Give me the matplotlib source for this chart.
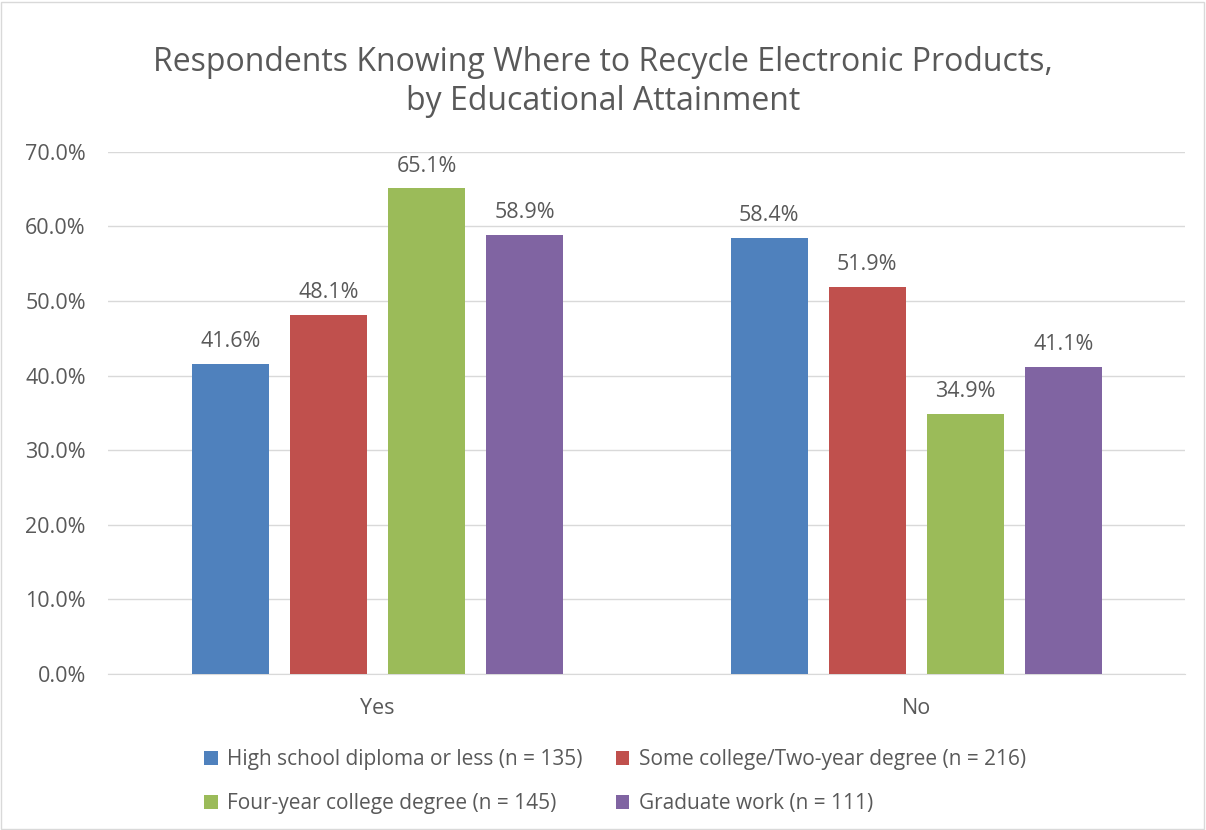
import numpy as np
import matplotlib.pyplot as plt
from matplotlib.patches import Rectangle

plt.rcParams['font.family'] = ['Open Sans', 'DejaVu Sans']

# survey responses by education group
answers = ['Yes', 'No']
groups = ['High school diploma or less (n = 135)',
          'Some college/Two-year degree (n = 216)',
          'Four-year college degree (n = 145)',
          'Graduate work (n = 111)']
hs_diploma = [41.6, 58.4]
some_college = [48.1, 51.9]
four_year = [65.1, 34.9]
graduate = [58.9, 41.1]
colors = ['#4F81BD', '#C0504D', '#9BBB59', '#8064A2']

series = [hs_diploma, some_college, four_year, graduate]
text_color = '#595959'

fig = plt.figure(figsize=(12.06, 8.30), dpi=100)
ax = fig.add_axes([0.0896, 0.188, 0.8934, 0.629])

x = np.arange(len(answers))
width = 0.143
step = 0.182
handles = []
for i, (vals, col, lab) in enumerate(zip(series, colors, groups)):
    pos = x + (i - 1.5) * step
    bars = ax.bar(pos, vals, width, color=col, label=lab, zorder=3)
    handles.append(bars)
    for b, v in zip(bars, vals):
        ax.text(b.get_x() + b.get_width() / 2, v + 1.6, f'{v:.1f}%',
                ha='center', va='bottom', fontsize=15.5, color=text_color)

ax.set_xlim(-0.5, 1.5)
ax.set_ylim(0, 70)
ax.set_yticks(np.arange(0, 71, 10))
ax.set_yticklabels([f'{t:.1f}%' for t in np.arange(0, 71, 10)])
ax.set_xticks(x)
ax.set_xticklabels(answers)
ax.grid(axis='y', color='#D9D9D9', linewidth=1, zorder=0)
ax.tick_params(axis='both', length=0, labelsize=15.5, colors=text_color)
ax.tick_params(axis='y', pad=16)
ax.tick_params(axis='x', pad=17)
for side in ['top', 'right', 'left']:
    ax.spines[side].set_visible(False)
ax.spines['bottom'].set_color('#D9D9D9')

fig.suptitle('Respondents Knowing Where to Recycle Electronic Products,\nby Educational Attainment',
             y=0.945, fontsize=23, color=text_color, linespacing=1.25)

# legend filled row by row: blue, red / green, purple
order = [0, 2, 1, 3]
leg = fig.legend([handles[i] for i in order], [groups[i] for i in order],
                 loc='center', bbox_to_anchor=(0.51, 0.058), ncol=2, frameon=False,
                 fontsize=15, handlelength=0.65, handleheight=0.65,
                 columnspacing=1.6, handletextpad=0.45, labelspacing=1.1)
for t in leg.get_texts():
    t.set_color(text_color)

# thin chart border
fig.patches.append(Rectangle((0.001, 0.001), 0.997, 0.997, transform=fig.transFigure,
                             fill=False, edgecolor='#D9D9D9', linewidth=1))

fig.savefig('out.png', dpi=100)
